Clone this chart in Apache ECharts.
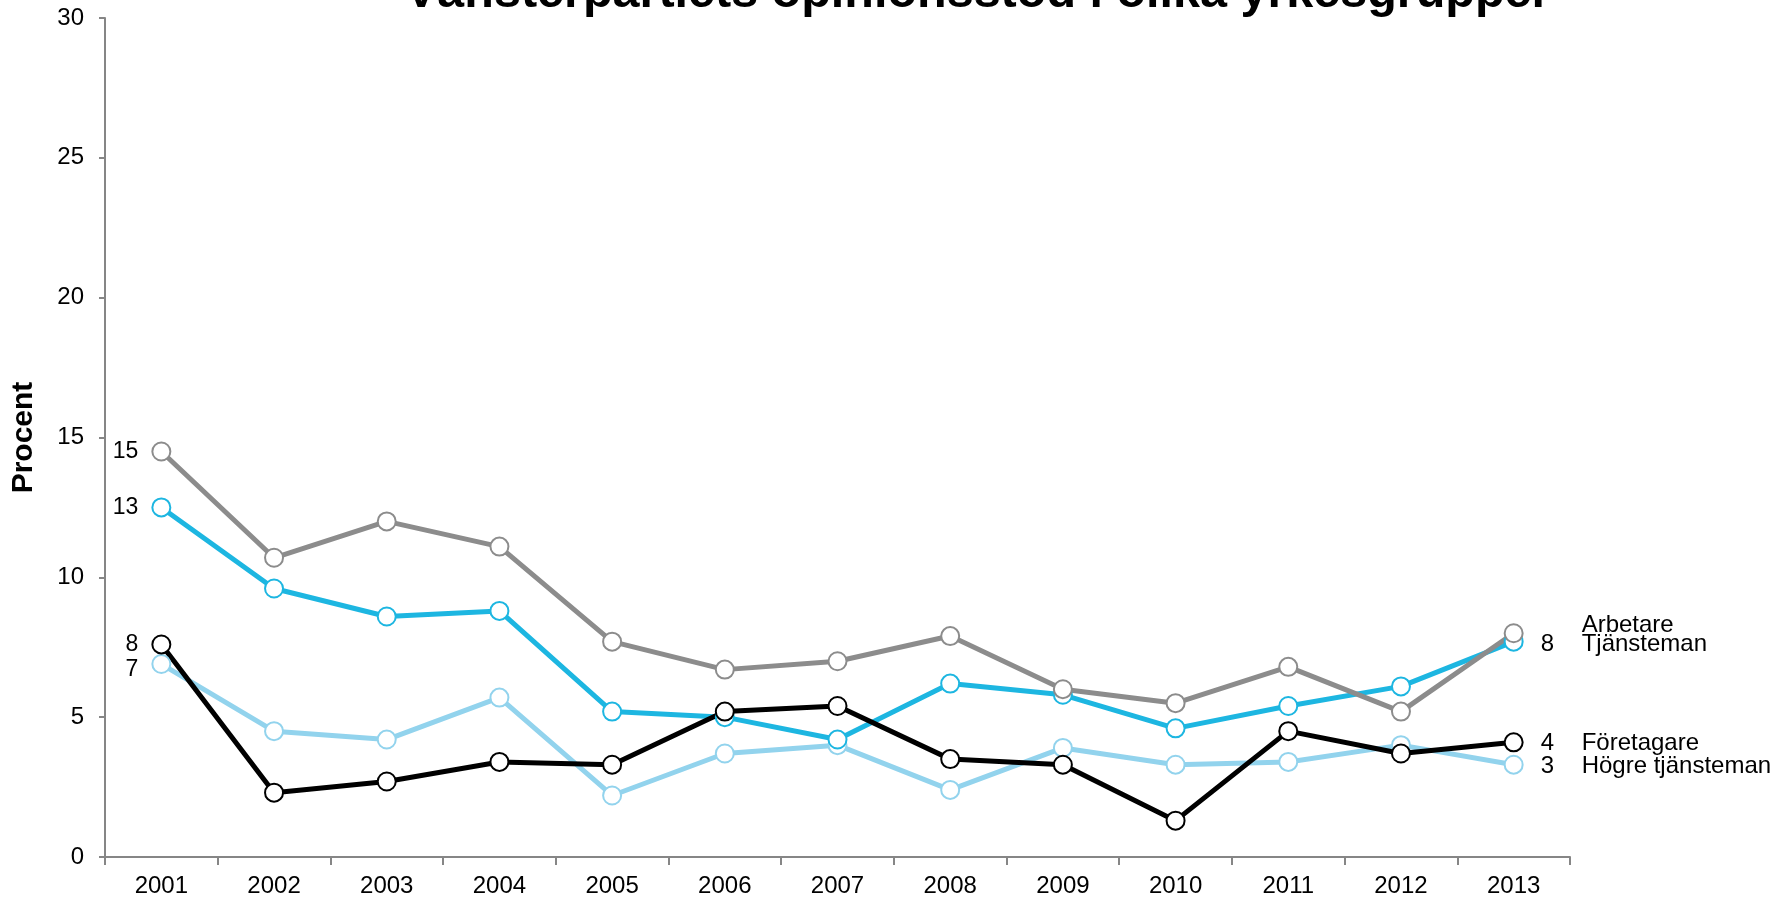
<!DOCTYPE html>
<html>
<head>
<meta charset="utf-8">
<script src="https://cdn.jsdelivr.net/npm/echarts@6/dist/echarts.min.js"></script>
<style>html,body{margin:0;padding:0;background:#fff}#c{width:1774px;height:902px}</style>
</head>
<body>
<div id="c"></div>
<script>
const years = ['2001','2002','2003','2004','2005','2006','2007','2008','2009','2010','2011','2012','2013'];
const yTicks = [0, 5, 10, 15, 20, 25, 30];
const arbetare = [14.5, 10.7, 12.0, 11.1, 7.7, 6.7, 7.0, 7.9, 6.0, 5.5, 6.8, 5.2, 8.0];
const tjansteman = [12.5, 9.6, 8.6, 8.8, 5.2, 5.0, 4.2, 6.2, 5.8, 4.6, 5.4, 6.1, 7.7];
const foretagare = [7.6, 2.3, 2.7, 3.4, 3.3, 5.2, 5.4, 3.5, 3.3, 1.3, 4.5, 3.7, 4.1];
const hogre = [6.9, 4.5, 4.2, 5.7, 2.2, 3.7, 4.0, 2.4, 3.9, 3.3, 3.4, 4.0, 3.3];
const titleText = 'Vänsterpartiets opinionsstöd i olika yrkesgrupper';
const yName = 'Procent';

const FONT = 'Liberation Sans';
const LBL = 23;
const END = 24;

function mkSeries(name, data, color, opts) {
  const n = data.length;
  const d = data.map((v, i) => {
    const item = { value: v };
    if (i === 0 && opts.first) {
      item.label = {
        show: true, position: 'left', distance: 13,
        offset: [0, opts.firstOffset || 0],
        formatter: () => String(Math.round(v)),
        fontFamily: FONT, fontSize: LBL, color: '#000'
      };
    }
    if (i === n - 1) {
      const num = opts.lastNum ? String(Math.round(v)) : '';
      item.label = {
        show: true, position: 'right', distance: 17,
        offset: [0, opts.lastOffset || 0],
        formatter: '{v|' + num + '}{n|' + name + '}',
        rich: {
          v: { width: 41, fontFamily: FONT, fontSize: END, color: '#000' },
          n: { fontFamily: FONT, fontSize: END, color: '#000' }
        }
      };
    }
    return item;
  });
  return {
    name, type: 'line', data: d,
    symbol: 'emptyCircle', symbolSize: 18,
    lineStyle: { color, width: 5 },
    itemStyle: { color, borderColor: color, borderWidth: 2 },
    label: { show: false },
    emphasis: { disabled: true },
    animation: false
  };
}

const chart = echarts.init(document.getElementById('c'), null, { renderer: 'canvas' });
chart.setOption({
  backgroundColor: '#fff',
  animation: false,
  textStyle: { fontFamily: FONT },
  title: {
    text: titleText, left: 405, top: -31, padding: 0,
    textStyle: { fontFamily: FONT, fontWeight: 'bold', fontSize: 48.5, color: '#000' }
  },
  grid: { left: 105, right: 204, top: 18, bottom: 45, containLabel: false },
  xAxis: {
    type: 'category', data: years, boundaryGap: true,
    axisLine: { lineStyle: { color: '#868686', width: 2 } },
    axisTick: { show: true, length: 8, lineStyle: { color: '#868686', width: 2 } },
    axisLabel: { fontFamily: FONT, fontSize: 24, color: '#000', margin: 17 },
    splitLine: { show: false }
  },
  yAxis: {
    type: 'value', min: 0, max: 30, interval: 5,
    name: yName, nameLocation: 'middle', nameGap: 66,
    nameTextStyle: { fontFamily: FONT, fontWeight: 'bold', fontSize: 30, color: '#000' },
    axisLine: { show: true, lineStyle: { color: '#868686', width: 2 } },
    axisTick: { show: true, length: 6, lineStyle: { color: '#868686', width: 2 } },
    axisLabel: { fontFamily: FONT, fontSize: 24, color: '#000', margin: 21,
      formatter: v => yTicks.includes(v) ? String(v) : '' },
    splitLine: { show: false }
  },
  series: [
    mkSeries('Högre tjänsteman', hogre, '#92d3ed', { first: true, firstOffset: 6, lastNum: true, lastOffset: 2 }),
    mkSeries('Tjänsteman', tjansteman, '#1db6e1', { first: true, lastNum: true, lastOffset: 3 }),
    mkSeries('Arbetare', arbetare, '#8c8c8c', { first: true, lastNum: false, lastOffset: -8 }),
    mkSeries('Företagare', foretagare, '#000000', { first: true, lastNum: true, lastOffset: 1 })
  ]
});
</script>
</body>
</html>
